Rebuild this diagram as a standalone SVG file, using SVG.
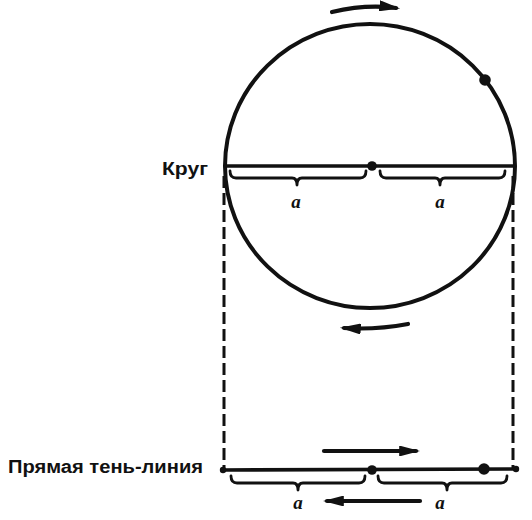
<svg xmlns="http://www.w3.org/2000/svg" width="532" height="520" viewBox="0 0 532 520">
<defs>
<style>
.ln{fill:none;stroke:#111;stroke-width:3.6;stroke-linecap:round}
.br{fill:none;stroke:#111;stroke-width:2.8;stroke-linejoin:round;stroke-linecap:round}
.ds{fill:none;stroke:#111;stroke-width:3;stroke-dasharray:12 5}
.ar{fill:none;stroke:#111;stroke-width:4.2;stroke-linecap:round}
.dt{fill:#111}
.lb{font-family:"Liberation Sans","DejaVu Sans",sans-serif;font-weight:bold;font-size:18px;fill:#111}
.a{font-family:"Liberation Serif","DejaVu Serif",serif;font-style:italic;font-weight:bold;font-size:19px;fill:#111;text-anchor:middle}
</style>
<marker id="head" viewBox="0 0 10 10" refX="8" refY="5" markerWidth="5" markerHeight="2.6" orient="auto" markerUnits="strokeWidth" preserveAspectRatio="none">
<path d="M0,0 L10,5 L0,10 Z" fill="#111"/>
</marker>
</defs>
<rect width="532" height="520" fill="#fff"/>
<g id="connectors">
<line class="ds" x1="224" y1="176" x2="224" y2="468"/>
<line class="ds" x1="513" y1="176" x2="513" y2="468"/>
<path class="ar" d="M332,12 Q366,4 396,8" marker-end="url(#head)"/>
<path class="ar" d="M408,324 Q376,330 344,328" marker-end="url(#head)"/>
<path class="ar" d="M324,451 L416,451" marker-end="url(#head)"/>
<path class="ar" d="M420,501 L327,501" marker-end="url(#head)"/>
</g>
<g id="circle">
<ellipse class="ln" cx="370" cy="166" rx="145" ry="142" style="stroke-width:4"/>
<line class="ln" x1="225" y1="166" x2="514" y2="166"/>
<circle class="dt" cx="372" cy="166" r="4.8"/>
<circle class="dt" cx="485" cy="80" r="5.8"/>
<path class="br" d="M230,171 Q230,178 236,178 L292,178 Q297,178 297,185 Q297,178 302,178 L360,178 Q366,178 366,171"/>
<path class="br" d="M380,171 Q380,178 386,178 L435,178 Q440,178 440,185 Q440,178 445,178 L499,178 Q505,178 505,171"/>
<text class="a" x="296" y="208">a</text>
<text class="a" x="440" y="208">a</text>
</g>
<g id="label-circle">
<text class="lb" x="162" y="175" textLength="46" lengthAdjust="spacingAndGlyphs">Круг</text>
</g>
<g id="shadow-line">
<line class="ln" x1="223" y1="470" x2="516" y2="469"/>
<circle class="dt" cx="223" cy="470" r="3.2"/>
<circle class="dt" cx="516" cy="469" r="3.2"/>
<circle class="dt" cx="372" cy="470" r="4.8"/>
<circle class="dt" cx="484" cy="469" r="5.8"/>
<path class="br" d="M231,476 Q231,483 237,483 L293,483 Q298,483 298,490 Q298,483 303,483 L359,483 Q365,483 365,476"/>
<path class="br" d="M378,476 Q378,483 384,483 L442,483 Q447,483 447,490 Q447,483 452,483 L501,483 Q507,483 507,476"/>
<text class="a" x="298" y="509">a</text>
<text class="a" x="440" y="509">a</text>
</g>
<g id="label-line">
<text class="lb" x="8" y="473" textLength="195" lengthAdjust="spacingAndGlyphs">Прямая тень-линия</text>
</g>
</svg>
